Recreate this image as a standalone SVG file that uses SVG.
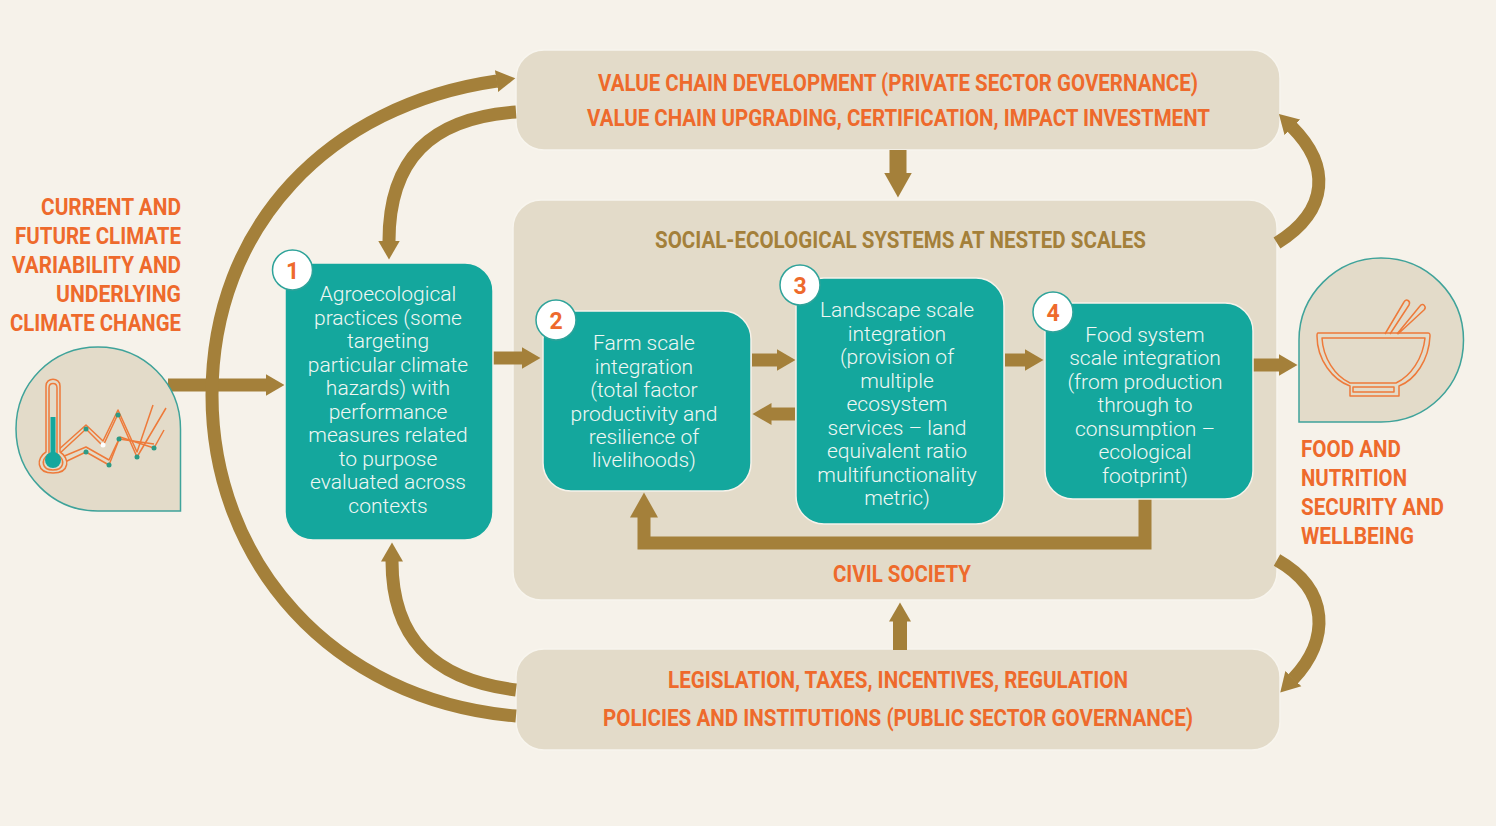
<svg xmlns="http://www.w3.org/2000/svg" width="1496" height="826" viewBox="0 0 1496 826">
<style>
.h{font-family:"Roboto","Liberation Sans",sans-serif;font-weight:700;font-size:23px;fill:#ee6a2c}
.o{fill:#a4803a}
.b{font-family:"Roboto","Liberation Sans",sans-serif;font-weight:300;font-size:21px;fill:#f0f7f4;text-anchor:middle}
.n{font-family:"Roboto","Liberation Sans",sans-serif;font-weight:700;font-size:23px;fill:#ee6a2c;text-anchor:middle}
.box{fill:#14a79d;stroke:#f6f2ea;stroke-width:1.5}
.panel{fill:#e3dbc9;stroke:#f8f5ee;stroke-width:1.5}
.circ{fill:#fff;stroke:#2fa39a;stroke-width:1.5}
.drop{fill:#e3dbc9;stroke:#3fa39a;stroke-width:1.5}
.c{fill:none;stroke:#a4803a;stroke-width:13}
.ic{fill:none;stroke:#ee7a3a;stroke-width:1.5;stroke-linejoin:round}
.dot{fill:#2d9a85}
</style>
<defs>
<marker id="ah" markerUnits="userSpaceOnUse" markerWidth="20" markerHeight="24" refX="0.5" refY="12" orient="auto" viewBox="0 0 20 24"><path d="M0 1L19 12L0 23Z" fill="#a4803a"/></marker>
<marker id="ahb" markerUnits="userSpaceOnUse" markerWidth="26" markerHeight="30" refX="0.5" refY="15" orient="auto" viewBox="0 0 26 30"><path d="M0 1L25 15L0 29Z" fill="#a4803a"/></marker>
</defs>
<rect width="1496" height="826" fill="#f6f2ea"/>

<g id="value-chain"><rect class="panel" x="516" y="50" width="764" height="100" rx="28"/>
<text class="h" x="598" y="91" textLength="600" lengthAdjust="spacingAndGlyphs">VALUE CHAIN DEVELOPMENT (PRIVATE SECTOR GOVERNANCE)</text>
<text class="h" x="587" y="126" textLength="623" lengthAdjust="spacingAndGlyphs">VALUE CHAIN UPGRADING, CERTIFICATION, IMPACT INVESTMENT</text></g>

<g id="ses"><rect class="panel" x="513" y="200" width="764" height="400" rx="28"/>
<text class="h" style="fill:#a4803a" x="655" y="248" textLength="491" lengthAdjust="spacingAndGlyphs">SOCIAL-ECOLOGICAL SYSTEMS AT NESTED SCALES</text>
<text class="h" x="833" y="582" textLength="138" lengthAdjust="spacingAndGlyphs">CIVIL SOCIETY</text></g>

<g id="policy"><rect class="panel" x="516" y="649" width="764" height="101" rx="28"/>
<text class="h" x="668" y="688" textLength="460" lengthAdjust="spacingAndGlyphs">LEGISLATION, TAXES, INCENTIVES, REGULATION</text>
<text class="h" x="603" y="726" textLength="590" lengthAdjust="spacingAndGlyphs">POLICIES AND INSTITUTIONS (PUBLIC SECTOR GOVERNANCE)</text></g>

<g id="connectors">
<path class="c" d="M168 385H266" marker-end="url(#ah)"/>
<path class="c" d="M516 716C330 700 212 560 212 395C212 225 330 105 497 81" stroke-width="14" marker-end="url(#ah)"/>
<path class="c" d="M516 112C430 118 389 160 389 241" marker-end="url(#ah)"/>
<path class="c" d="M516 690C435 680 392 640 392 561" marker-end="url(#ah)"/>
<path class="c" d="M493 358H522" marker-end="url(#ah)"/>
<path class="c" d="M752 360H777" marker-end="url(#ah)"/>
<path class="c" d="M795 414H771" marker-end="url(#ah)"/>
<path class="c" d="M1005 360H1025" marker-end="url(#ah)"/>
<path class="c" d="M1253 365H1279" marker-end="url(#ah)"/>
<path class="c" d="M1145 499V543H644V517" marker-end="url(#ahb)"/>
<path class="c" d="M898 150V173" style="stroke-width:17" marker-end="url(#ahb)"/>
<path class="c" d="M900 650V621" style="stroke-width:14" marker-end="url(#ah)"/>
<path class="c" d="M1277 243C1330 210 1330 165 1292 127" marker-end="url(#ah)"/>
<path class="c" d="M1277 560C1330 590 1330 640 1293 679" marker-end="url(#ah)"/>
</g>

<g id="climate-label">
<text class="h" x="41" y="215" textLength="140" lengthAdjust="spacingAndGlyphs">CURRENT AND</text>
<text class="h" x="15" y="244" textLength="166" lengthAdjust="spacingAndGlyphs">FUTURE CLIMATE</text>
<text class="h" x="12" y="273" textLength="169" lengthAdjust="spacingAndGlyphs">VARIABILITY AND</text>
<text class="h" x="56" y="302" textLength="125" lengthAdjust="spacingAndGlyphs">UNDERLYING</text>
<text class="h" x="10" y="331" textLength="171" lengthAdjust="spacingAndGlyphs">CLIMATE CHANGE</text>
</g>
<g id="climate-icon">
<path class="drop" d="M180.500 511H98C52 511 16 474 16 429C16 383 52 347 98 347C144 347 180.500 383 180.500 429Z"/>
<path class="ic" d="M46 466L86 429L103 446L118 414L137 457L166 408"/>
<path class="ic" d="M48 470L86 452L109 465L120 437L154 448L164 430"/>
<path class="ic" stroke-width="1" d="M47 460L86 425L103 441L118 410L137 452L153 405M50 462L86 447L109 460L119 439L154 444"/>
<path class="ic" style="fill:#e3dbc9" d="M46 386C46 377 60 377 60 386V452C70 458 70 473 53 473C36 473 36 458 46 452Z"/>
<path class="ic" style="fill:#e3dbc9" d="M49 388C49 382 57 382 57 388V454C66 460 64 470 53 470C42 470 40 460 49 454Z"/>
<rect x="50.500" y="417" width="5" height="36" fill="#14a79d"/>
<circle cx="53" cy="460" r="8" fill="#14a79d"/>
<circle class="dot" cx="86" cy="429" r="2.500"/><circle class="dot" cx="86" cy="452" r="2.500"/>
<circle cx="103" cy="445" r="2.500" fill="#fff"/><circle class="dot" cx="109" cy="465" r="2.500"/>
<circle class="dot" cx="118" cy="415" r="2.500"/><circle class="dot" cx="119" cy="439" r="2.500"/>
<circle class="dot" cx="137" cy="457" r="2.500"/><circle class="dot" cx="154" cy="448" r="2.500"/>
</g>

<g id="node-1"><rect class="box" x="285" y="263" width="208" height="277" rx="28"/>
<text class="b"><tspan x="388" y="301">Agroecological</tspan><tspan x="388" y="325">practices (some</tspan><tspan x="388" y="348">targeting</tspan><tspan x="388" y="372">particular climate</tspan><tspan x="388" y="395">hazards) with</tspan><tspan x="388" y="419">performance</tspan><tspan x="388" y="442">measures related</tspan><tspan x="388" y="466">to purpose</tspan><tspan x="388" y="489">evaluated across</tspan><tspan x="388" y="513">contexts</tspan></text>
<circle class="circ" cx="292.500" cy="270" r="20"/><text class="n" x="292.500" y="279">1</text></g>

<g id="node-2"><rect class="box" x="543" y="311" width="208" height="180" rx="28"/>
<text class="b"><tspan x="644" y="350">Farm scale</tspan><tspan x="644" y="374">integration</tspan><tspan x="644" y="397">(total factor</tspan><tspan x="644" y="421">productivity and</tspan><tspan x="644" y="444">resilience of</tspan><tspan x="644" y="467">livelihoods)</tspan></text>
<circle class="circ" cx="556" cy="320" r="20"/><text class="n" x="556" y="329">2</text></g>

<g id="node-3"><rect class="box" x="796" y="278" width="208" height="246" rx="28"/>
<text class="b"><tspan x="897" y="317">Landscape scale</tspan><tspan x="897" y="341">integration</tspan><tspan x="897" y="364">(provision of</tspan><tspan x="897" y="388">multiple</tspan><tspan x="897" y="411">ecosystem</tspan><tspan x="897" y="435">services – land</tspan><tspan x="897" y="458">equivalent ratio</tspan><tspan x="897" y="482">multifunctionality</tspan><tspan x="897" y="505">metric)</tspan></text>
<circle class="circ" cx="800" cy="285" r="20"/><text class="n" x="800" y="294">3</text></g>

<g id="node-4"><rect class="box" x="1045" y="303" width="208" height="196" rx="28"/>
<text class="b"><tspan x="1145" y="342">Food system</tspan><tspan x="1145" y="365">scale integration</tspan><tspan x="1145" y="389">(from production</tspan><tspan x="1145" y="412">through to</tspan><tspan x="1145" y="436">consumption –</tspan><tspan x="1145" y="459">ecological</tspan><tspan x="1145" y="483">footprint)</tspan></text>
<circle class="circ" cx="1053" cy="312" r="20"/><text class="n" x="1053" y="321">4</text></g>

<g id="food-icon">
<path class="drop" d="M1299 422V340C1299 295 1336 258 1381 258C1427 258 1463.500 295 1463.500 340C1463.500 386 1427 422 1381 422Z"/>
<path class="ic" d="M1385 334L1404 302C1406 298 1411 301 1409 305L1390 334M1397 334L1420 306C1423 302 1427 307 1424 310L1398 334"/>
<path class="ic" d="M1318 333H1428C1430 333 1430 334 1430 336C1429 360 1415 380 1399 386V396H1350V386C1333 380 1317 360 1317 336C1317 334 1317 333 1318 333Z"/>
<path class="ic" d="M1322 338H1425C1423 358 1411 376 1396 383H1350C1335 376 1323 358 1322 338Z"/>
<rect class="ic" x="1353" y="387" width="41" height="5"/>
</g>

<g id="food-label">
<text class="h" x="1301" y="457" textLength="100" lengthAdjust="spacingAndGlyphs">FOOD AND</text>
<text class="h" x="1301" y="486" textLength="106" lengthAdjust="spacingAndGlyphs">NUTRITION</text>
<text class="h" x="1301" y="515" textLength="143" lengthAdjust="spacingAndGlyphs">SECURITY AND</text>
<text class="h" x="1301" y="544" textLength="113" lengthAdjust="spacingAndGlyphs">WELLBEING</text>
</g>
</svg>
